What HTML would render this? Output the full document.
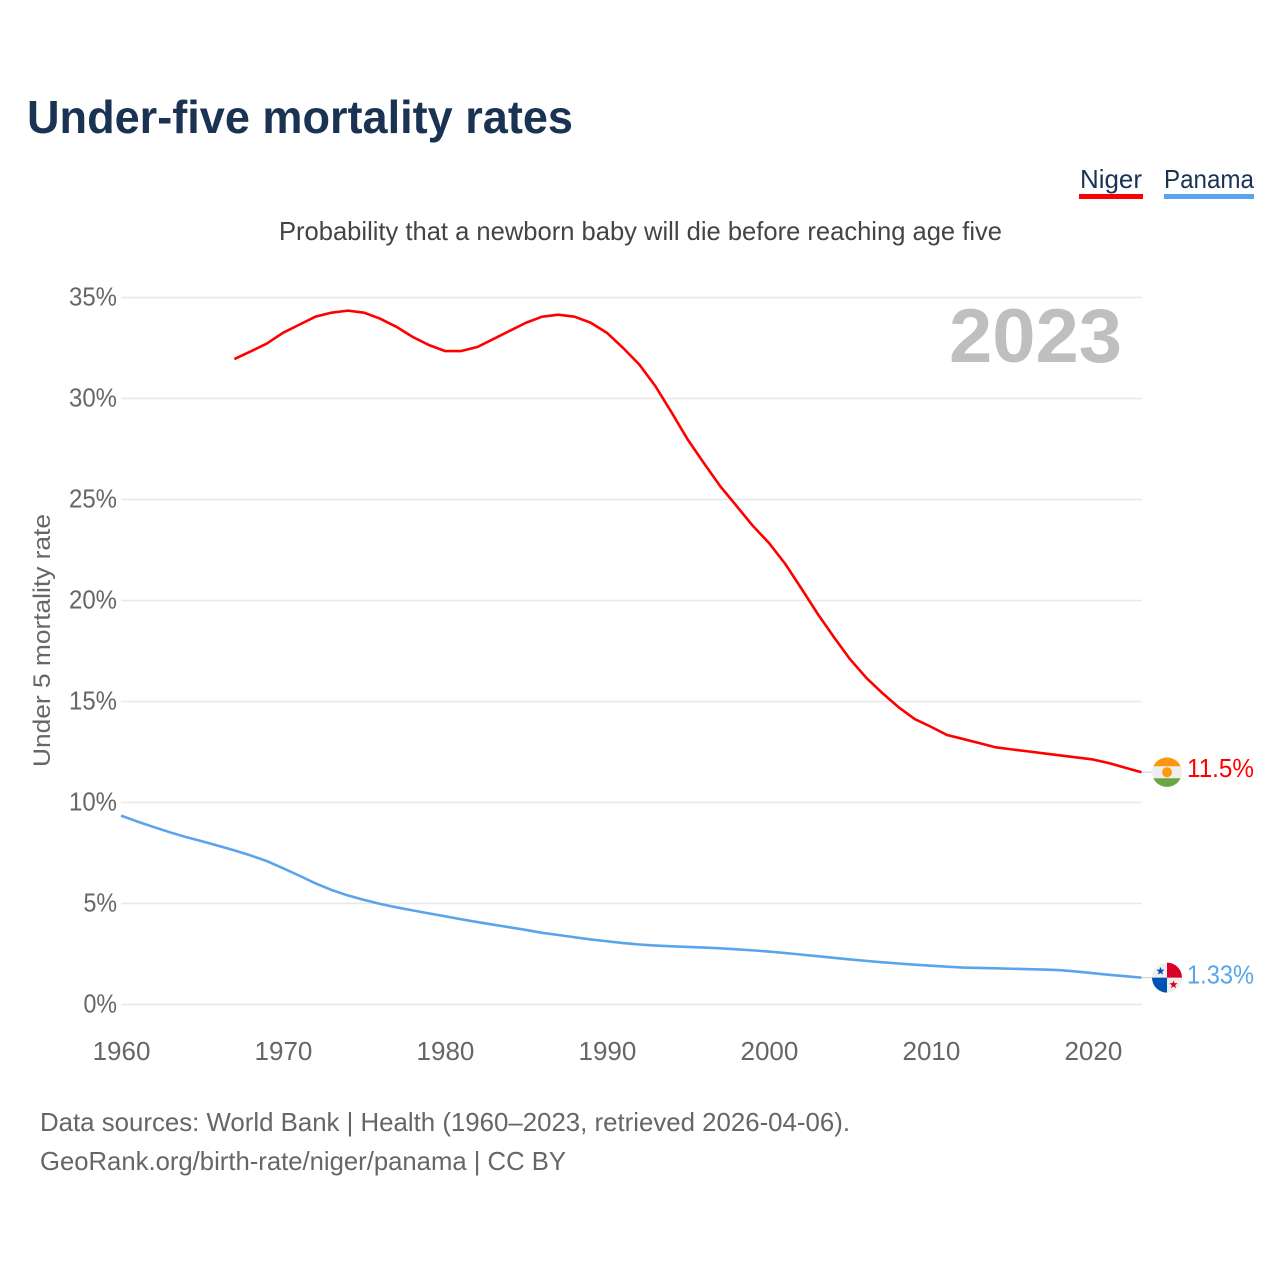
<!DOCTYPE html>
<html lang="en">
<head>
<meta charset="utf-8">
<title>Under-five mortality rates</title>
<style>
html,body{margin:0;padding:0;background:#fff;}
svg{display:block;font-family:"Liberation Sans",sans-serif;}
</style>
</head>
<body>
<svg id="chart" xmlns="http://www.w3.org/2000/svg" width="1280" height="1280" viewBox="0 0 1280 1280">
  <rect width="1280" height="1280" fill="#ffffff"/>
  <text x="27" y="133" font-size="46" font-weight="700" fill="#1a3353" textLength="546" lengthAdjust="spacingAndGlyphs">Under-five mortality rates</text>
  <g>
    <text x="1080" y="188" font-size="26" fill="#1a3353" textLength="62" lengthAdjust="spacingAndGlyphs">Niger</text>
    <rect x="1079" y="194" width="64" height="5" fill="#ff0000"/>
  </g>
  <g>
    <text x="1164" y="188" font-size="26" fill="#1a3353" textLength="90" lengthAdjust="spacingAndGlyphs">Panama</text>
    <rect x="1164" y="194" width="90" height="5" fill="#5ba4ec"/>
  </g>
  <text x="279" y="240" font-size="26" fill="#444444" textLength="723" lengthAdjust="spacingAndGlyphs">Probability that a newborn baby will die before reaching age five</text>
  <g id="grid"></g>
  <g id="yticks"></g>
  <g id="xticks"></g>
  <text transform="translate(50,767) rotate(-90)" font-size="24.5" fill="#666666" textLength="253" lengthAdjust="spacingAndGlyphs">Under 5 mortality rate</text>
  <text x="949" y="362" font-size="76" font-weight="700" fill="#bfbfbf" textLength="173" lengthAdjust="spacingAndGlyphs">2023</text>
  <g id="series"></g>
  <g id="flags"></g>
  <text id="label-niger" x="1187" font-size="26" fill="#ff0000" textLength="67" lengthAdjust="spacingAndGlyphs">11.5%</text>
  <text id="label-panama" x="1187" font-size="26" fill="#5ba4ec" textLength="67" lengthAdjust="spacingAndGlyphs">1.33%</text>
  <text x="40" y="1131" font-size="26" fill="#666666" textLength="810" lengthAdjust="spacingAndGlyphs">Data sources: World Bank | Health (1960–2023, retrieved 2026-04-06).</text>
  <text x="40" y="1170" font-size="26" fill="#666666" textLength="526" lengthAdjust="spacingAndGlyphs">GeoRank.org/birth-rate/niger/panama | CC BY</text>
</svg>
<script>
const yTickValues = [0, 5, 10, 15, 20, 25, 30, 35];
const xTickValues = [1960, 1970, 1980, 1990, 2000, 2010, 2020];
const nigerStartYear = 1967;
const nigerValues = [31.95, 32.33, 32.72, 33.25, 33.65, 34.05, 34.25, 34.35, 34.25, 33.95, 33.55, 33.05, 32.65, 32.35, 32.35, 32.55, 32.95, 33.35, 33.75, 34.05, 34.15, 34.05, 33.75, 33.25, 32.5, 31.68, 30.6, 29.3, 27.95, 26.78, 25.65, 24.68, 23.7, 22.85, 21.82, 20.6, 19.35, 18.2, 17.1, 16.18, 15.42, 14.72, 14.13, 13.75, 13.34, 13.14, 12.94, 12.73, 12.63, 12.53, 12.43, 12.33, 12.23, 12.13, 11.95, 11.72, 11.5];
const panamaStartYear = 1960;
const panamaValues = [9.35, 9.06, 8.79, 8.53, 8.29, 8.08, 7.86, 7.63, 7.38, 7.1, 6.75, 6.38, 6.0, 5.67, 5.4, 5.18, 4.98, 4.81, 4.66, 4.51, 4.37, 4.22, 4.08, 3.95, 3.82, 3.69, 3.55, 3.44, 3.33, 3.22, 3.13, 3.04, 2.97, 2.92, 2.88, 2.85, 2.82, 2.78, 2.73, 2.68, 2.62, 2.55, 2.47, 2.39, 2.31, 2.23, 2.16, 2.09, 2.03, 1.97, 1.92, 1.87, 1.83, 1.81, 1.79, 1.77, 1.75, 1.73, 1.7, 1.63, 1.55, 1.47, 1.4, 1.33];

const NS = 'http://www.w3.org/2000/svg';
function xScale(year) { return 121 + (year - 1960) * (1141.5 - 121) / 63; }
function yScale(v) { return 1004.5 - v * (1004.5 - 297.5) / 35; }
function make(tag, attrs, parent) {
  const el = document.createElementNS(NS, tag);
  for (const k in attrs) el.setAttribute(k, attrs[k]);
  parent.appendChild(el);
  return el;
}
const grid = document.getElementById('grid');
const yticks = document.getElementById('yticks');
const xticks = document.getElementById('xticks');
const series = document.getElementById('series');
const flags = document.getElementById('flags');

yTickValues.forEach(function (v) {
  const line = make('line', {x1: 121, x2: 1141.5, y1: yScale(v), y2: yScale(v), stroke: '#e8e8e8', 'stroke-width': 1.5}, grid);
  
  
  const t = make('text', {x: 117, y: yScale(v) + 8, 'text-anchor': 'end', 'font-size': 26, fill: '#666666', textLength: String(v).length * 14.5 + 19, lengthAdjust: 'spacingAndGlyphs'}, yticks);
  t.textContent = v + '%';
  
  
});
xTickValues.forEach(function (year) {
  const t = make('text', {x: xScale(year) + 0.5, y: 1060, 'text-anchor': 'middle', 'font-size': 26, fill: '#666666'}, xticks);
  t.textContent = year;
  
  
});
function pathFrom(startYear, values) {
  return values.map(function (v, i) {
    return (i ? 'L' : 'M') + xScale(startYear + i).toFixed(2) + ' ' + yScale(v).toFixed(2);
  }).join(' ');
}
const nigerLine = make('path', {d: pathFrom(nigerStartYear, nigerValues), fill: 'none', stroke: '#ff0000', 'stroke-width': 2.6, 'stroke-linejoin': 'round'}, series);


const panamaLine = make('path', {d: pathFrom(panamaStartYear, panamaValues), fill: 'none', stroke: '#5ba4ec', 'stroke-width': 2.6, 'stroke-linejoin': 'round'}, series);



const nigerEnd = yScale(nigerValues[nigerValues.length - 1]);
const panamaEnd = yScale(panamaValues[panamaValues.length - 1]);
document.getElementById('label-niger').setAttribute('y', nigerEnd + 5);
document.getElementById('label-panama').setAttribute('y', panamaEnd + 6);

const cx = 1167;
const connN = make('line', {x1: 1141.5, x2: 1152, y1: nigerEnd, y2: nigerEnd, stroke: '#cccccc', 'stroke-width': 1}, flags);


const connP = make('line', {x1: 1141.5, x2: 1152, y1: panamaEnd, y2: panamaEnd, stroke: '#cccccc', 'stroke-width': 1}, flags);



// Niger flag
const ny = nigerEnd;
const nigerFlag = make('g', {}, flags);


make('circle', {cx: cx, cy: ny, r: 15, fill: '#eeeeee'}, nigerFlag);
make('path', {d: 'M' + (cx - 13.6) + ' ' + (ny - 6) + ' A15 15 0 0 1 ' + (cx + 13.6) + ' ' + (ny - 6) + ' Z', fill: '#ff9811'}, nigerFlag);
make('path', {d: 'M' + (cx - 13.6) + ' ' + (ny + 6) + ' A15 15 0 0 0 ' + (cx + 13.6) + ' ' + (ny + 6) + ' Z', fill: '#6da544'}, nigerFlag);
make('circle', {cx: cx, cy: ny, r: 5, fill: '#ff9811'}, nigerFlag);

// Panama flag
const py = panamaEnd;
const panamaFlag = make('g', {}, flags);


make('circle', {cx: cx, cy: py, r: 15, fill: '#eeeeee'}, panamaFlag);
make('path', {d: 'M' + cx + ' ' + py + ' V' + (py - 15) + ' A15 15 0 0 1 ' + (cx + 15) + ' ' + py + ' Z', fill: '#d80027'}, panamaFlag);
make('path', {d: 'M' + cx + ' ' + py + ' V' + (py + 15) + ' A15 15 0 0 1 ' + (cx - 15) + ' ' + py + ' Z', fill: '#0052b4'}, panamaFlag);
function star(x, y, r, fill, parent) {
  let d = '';
  for (let i = 0; i < 10; i++) {
    const a = -Math.PI / 2 + i * Math.PI / 5;
    const rr = i % 2 ? r * 0.42 : r;
    d += (i ? 'L' : 'M') + (x + rr * Math.cos(a)).toFixed(2) + ' ' + (y + rr * Math.sin(a)).toFixed(2);
  }
  make('path', {d: d + 'Z', fill: fill}, parent);
}
star(cx - 6.5, py - 6.5, 4.3, '#0052b4', panamaFlag);
star(cx + 6.5, py + 7, 4.3, '#d80027', panamaFlag);
</script>
</body>
</html>
